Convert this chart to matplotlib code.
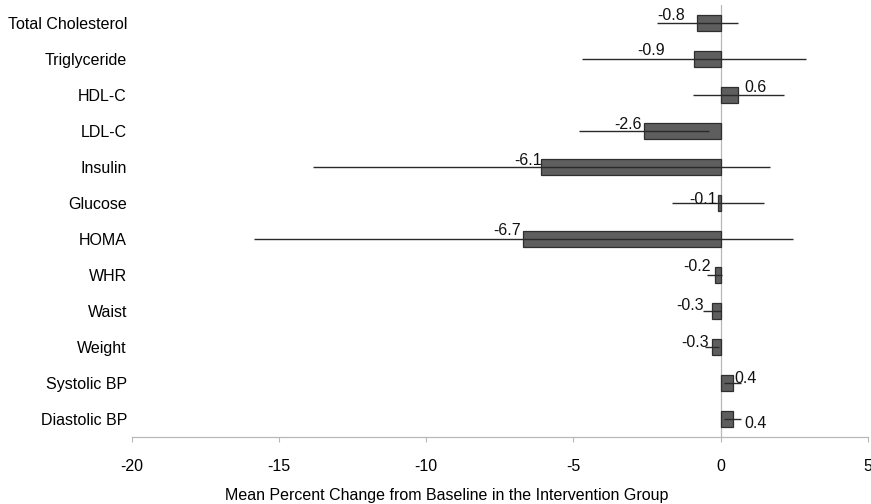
import numpy as np
import matplotlib.pyplot as plt

plt.rcParams['font.family'] = ['Liberation Sans', 'DejaVu Sans']

measures = ["Total Cholesterol", "Triglyceride", "HDL-C", "LDL-C", "Insulin",
            "Glucose", "HOMA", "WHR", "Waist", "Weight", "Systolic BP",
            "Diastolic BP"]
mean_change = [-0.8, -0.9, 0.6, -2.6, -6.1, -0.1, -6.7, -0.2, -0.3, -0.3, 0.4, 0.4]
ci_half = [1.37, 3.8, 1.55, 2.2, 7.76, 1.57, 9.16, 0.25, 0.3, 0.25, 0.3, 0.3]
xticks = [-20, -15, -10, -5, 0, 5]

# label offsets from the bar end, in pixels (dx, dy)
label_offsets = [(-26, 8), (-43, 9), (17, 8), (-16, 7), (-13, 7), (-15, 4),
                 (-16, 9), (-18, 9), (-22, 6), (-17, 5), (13, 5), (23, -4)]

W, H = 871, 504
fig = plt.figure(figsize=(W / 100, H / 100), dpi=100)
ax = fig.add_axes([131.7 / W, 1 - 437 / H, (868 - 131.7) / W, (437 - 5) / H])

y = np.arange(len(measures))
ax.barh(y, mean_change, height=0.42, color='#5e5e5e', edgecolor='#2e2e2e',
        linewidth=0.9, zorder=2)
ax.errorbar(mean_change, y, xerr=ci_half, fmt='none', ecolor='#2a2a2a',
            elinewidth=1.0, capsize=0, zorder=3)
ax.axvline(0, color='#b8b8b8', linewidth=0.9, zorder=1)

for i, v in enumerate(mean_change):
    dx, dy = label_offsets[i]
    ax.annotate(f"{v:.1f}", xy=(v, i), xytext=(dx, dy),
                textcoords='offset pixels', ha='center', va='center',
                fontsize=11.5, color='#111111', zorder=4)

ax.set_xlim(-20, 5)
ax.set_ylim(len(measures) - 0.5, -0.5)
ax.set_yticks(y)
ax.set_yticklabels(measures, fontsize=11.5)
ax.set_xticks(xticks)
ax.set_xticklabels([str(t) for t in xticks], fontsize=11.5)

ax.tick_params(axis='y', length=0, pad=3.4)
ax.tick_params(axis='x', direction='out', length=3.6, width=0.8,
               color='#b8b8b8', pad=12)
for side in ['top', 'right', 'left']:
    ax.spines[side].set_visible(False)
ax.spines['bottom'].set_color('#b8b8b8')
ax.spines['bottom'].set_linewidth(0.9)

ax.set_xlabel("Mean Percent Change from Baseline in the Intervention Group",
              fontsize=11.5)
ax.xaxis.set_label_coords((447 - 131.7) / (868 - 131.7), -0.117)

fig.savefig("out.png", dpi=100)
